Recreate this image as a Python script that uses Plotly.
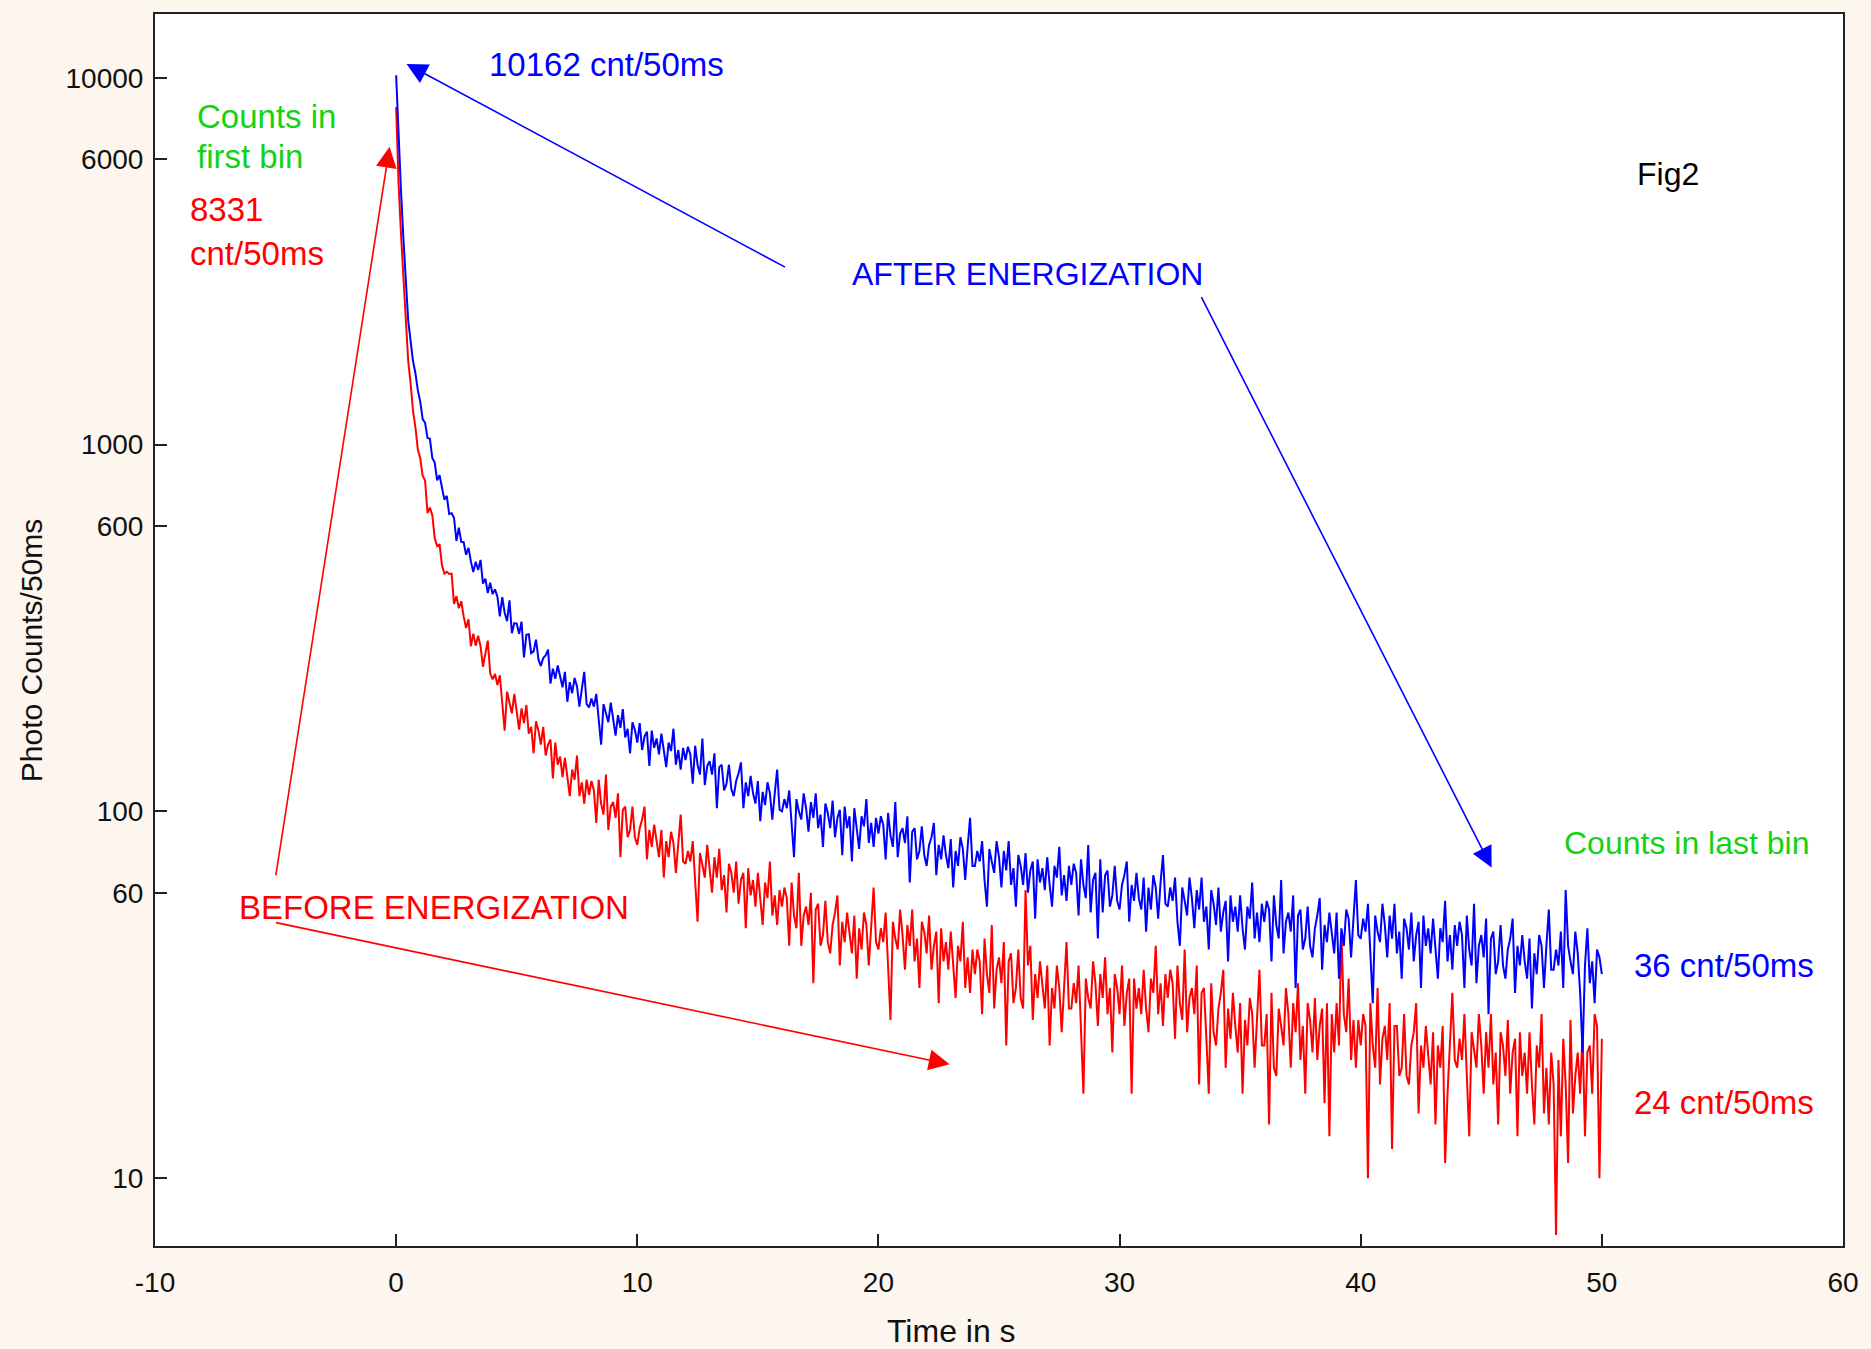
import plotly.graph_objects as go

# ---------------- data (0.1 s spacing, t = 0 ... 50 s) ----------------
T_START_S = 0.0
T_STEP_S = 0.1

after_energization = [
    10162, 6790, 4930, 3660, 2740, 2180, 1915, 1690, 1565, 1405,
    1310, 1174, 1147, 1043, 1037, 919, 893, 799, 825, 771,
    708, 725, 647, 650, 632, 546, 594, 543, 542, 501,
    523, 480, 449, 479, 455, 485, 418, 431, 394, 420,
    391, 403, 385, 340, 384, 348, 330, 376, 306, 326,
    325, 305, 329, 263, 303, 304, 270, 273, 294, 260,
    249, 262, 266, 276, 223, 245, 230, 250, 231, 218,
    240, 199, 225, 210, 231, 219, 193, 216, 240, 196,
    192, 203, 193, 209, 177, 152, 196, 184, 175, 198,
    181, 161, 183, 169, 190, 159, 168, 144, 175, 167,
    154, 174, 147, 160, 165, 133, 166, 149, 158, 143,
    163, 144, 132, 154, 146, 168, 134, 147, 130, 149,
    138, 150, 143, 119, 151, 134, 126, 158, 118, 133,
    137, 126, 144, 102, 132, 134, 114, 119, 134, 115,
    110, 121, 127, 136, 102, 120, 110, 125, 112, 105,
    121, 94, 113, 104, 120, 112, 95, 112, 130, 101,
    100, 108, 102, 114, 93, 75, 108, 100, 95, 112,
    102, 88, 106, 96, 112, 90, 98, 80, 105, 99,
    90, 107, 85, 96, 101, 76, 103, 90, 97, 73,
    102, 88, 79, 97, 91, 108, 82, 93, 80, 96,
    87, 97, 92, 74, 99, 86, 80, 106, 75, 87,
    90, 82, 97, 64, 88, 90, 74, 78, 91, 76,
    71, 81, 85, 93, 67, 81, 74, 86, 76, 70,
    84, 62, 78, 71, 85, 79, 65, 80, 96, 71,
    71, 78, 73, 83, 65, 55, 79, 73, 68, 83,
    75, 62, 78, 69, 83, 63, 70, 55, 76, 71,
    63, 77, 60, 69, 73, 51, 74, 64, 70, 61,
    75, 63, 55, 71, 66, 80, 59, 67, 57, 71,
    63, 72, 68, 52, 74, 63, 58, 81, 53, 65,
    68, 45, 74, 53, 67, 69, 55, 59, 71, 57,
    54, 63, 67, 73, 50, 63, 57, 68, 58, 54,
    66, 47, 62, 54, 67, 62, 51, 64, 76, 56,
    55, 62, 57, 66, 50, 43, 62, 57, 52, 66,
    58, 48, 61, 54, 66, 50, 55, 42, 61, 56,
    49, 62, 47, 53, 57, 39, 59, 50, 55, 47,
    59, 48, 42, 55, 51, 64, 45, 53, 44, 56,
    50, 57, 54, 39, 59, 49, 45, 65, 41, 50,
    53, 47, 59, 33, 52, 54, 42, 45, 55, 43,
    40, 48, 52, 58, 37, 49, 44, 53, 46, 41,
    53, 35, 48, 43, 54, 51, 40, 52, 65, 46,
    45, 51, 47, 56, 42, 30, 52, 47, 44, 56,
    49, 40, 52, 45, 56, 41, 47, 35, 51, 48,
    42, 53, 39, 46, 50, 33, 52, 43, 48, 41,
    51, 41, 35, 48, 44, 57, 39, 46, 37, 49,
    43, 50, 46, 33, 52, 42, 38, 56, 34, 43,
    46, 40, 51, 28, 45, 47, 36, 39, 49, 38,
    35, 42, 45, 51, 32, 43, 38, 46, 39, 35,
    45, 29, 41, 36, 46, 43, 33, 43, 54, 37,
    37, 42, 38, 47, 33, 61, 43, 39, 36, 47,
    41, 32, 22, 38, 48, 34, 39, 30, 42, 40,
    36,
]

before_energization = [
    8331, 5150, 3760, 2950, 2180, 1690, 1470, 1235, 1115, 970,
    916, 822, 798, 651, 673, 642, 556, 529, 535, 469,
    445, 450, 444, 445, 368, 386, 358, 374, 340, 316,
    334, 282, 305, 283, 301, 282, 248, 269, 292, 238,
    229, 237, 221, 235, 197, 166, 212, 197, 185, 209,
    189, 167, 191, 174, 195, 163, 170, 144, 176, 166,
    152, 170, 142, 152, 157, 123, 154, 134, 141, 124,
    140, 122, 110, 130, 122, 142, 110, 120, 105, 122,
    111, 121, 114, 93, 122, 105, 98, 126, 89, 103,
    106, 96, 112, 75, 101, 103, 85, 89, 103, 85,
    81, 90, 95, 103, 74, 89, 80, 92, 82, 75,
    89, 66, 83, 75, 88, 82, 68, 82, 98, 73,
    72, 78, 73, 83, 65, 50, 77, 71, 66, 81,
    71, 60, 75, 66, 79, 61, 67, 53, 72, 68,
    60, 73, 56, 65, 68, 48, 70, 59, 65, 55,
    68, 57, 49, 64, 58, 73, 52, 59, 49, 61,
    55, 62, 58, 43, 64, 52, 48, 68, 43, 52,
    55, 49, 60, 34, 54, 56, 43, 46, 57, 44,
    41, 49, 53, 59, 38, 50, 44, 53, 46, 41,
    52, 35, 48, 42, 53, 49, 38, 50, 62, 44,
    42, 48, 44, 53, 39, 27, 50, 45, 42, 54,
    46, 37, 49, 43, 54, 39, 45, 33, 50, 47,
    41, 52, 37, 43, 47, 30, 48, 39, 44, 37,
    47, 38, 31, 43, 39, 50, 33, 40, 32, 42,
    36, 42, 39, 28, 45, 36, 32, 49, 29, 37,
    40, 34, 44, 23, 39, 41, 30, 33, 42, 31,
    29, 61, 38, 43, 27, 36, 31, 39, 33, 29,
    38, 23, 33, 29, 38, 33, 25, 34, 44, 29,
    29, 34, 30, 38, 26, 17, 35, 31, 29, 39,
    34, 26, 36, 31, 40, 28, 33, 22, 36, 33,
    28, 38, 26, 32, 35, 17, 35, 29, 33, 28,
    37, 29, 25, 35, 32, 43, 28, 34, 26, 36,
    31, 37, 34, 24, 38, 30, 27, 42, 25, 31,
    33, 28, 38, 18, 32, 33, 24, 17, 34, 25,
    23, 29, 32, 37, 20, 29, 24, 32, 26, 22,
    30, 17, 27, 23, 31, 28, 20, 28, 37, 23,
    23, 28, 14, 32, 20, 19, 29, 26, 23, 33,
    28, 20, 30, 25, 34, 21, 26, 17, 30, 27,
    22, 31, 21, 26, 29, 16, 30, 13, 28, 22,
    30, 23, 47, 28, 25, 35, 21, 27, 20, 27,
    23, 28, 26, 10, 30, 23, 20, 33, 18, 24,
    26, 21, 30, 12, 26, 26, 19, 20, 28, 19,
    18, 23, 25, 30, 15, 23, 20, 26, 21, 18,
    25, 14, 23, 20, 26, 11, 17, 24, 32, 21,
    20, 24, 21, 28, 18, 13, 25, 22, 20, 28,
    23, 17, 25, 20, 28, 18, 22, 14, 25, 23,
    19, 27, 17, 22, 24, 13, 25, 19, 22, 17,
    25, 18, 14, 23, 20, 28, 15, 20, 14, 22,
    18, 7, 21, 13, 24, 18, 11, 27, 15, 19,
    22, 17, 25, 13, 22, 23, 17, 28, 26, 10,
    24,
]

x_tick_values = [-10, 0, 10, 20, 30, 40, 50, 60]
x_tick_labels = ["-10", "0", "10", "20", "30", "40", "50", "60"]
y_tick_values = [10, 60, 100, 600, 1000, 6000, 10000]
y_tick_labels = ["10", "60", "100", "600", "1000", "6000", "10000"]

# ---------------- layout constants ----------------
W, H = 1871, 1349
PL, PR, PT, PB = 155, 1846, 12, 1246   # plot area in pixels
FONT = "Liberation Sans, Arial, sans-serif"
BLUE = "#0000ff"
RED = "#ff0000"
GREEN = "#14d214"
BG = "#fcf6ef"


def px(xp):
    return (xp - PL) / (PR - PL)


def py(yp):
    return (PB - yp) / (PB - PT)


fig = go.Figure()
fig.add_trace(go.Scatter(x0=T_START_S, dx=T_STEP_S, y=before_energization, mode="lines",
                         line=dict(color=RED, width=2), showlegend=False, hoverinfo="skip"))
fig.add_trace(go.Scatter(x0=T_START_S, dx=T_STEP_S, y=after_energization, mode="lines",
                         line=dict(color=BLUE, width=2), showlegend=False, hoverinfo="skip"))

ann = []


def label(text, x, y, color, size=33, xanchor="left", angle=0):
    ann.append(dict(text=text, x=px(x), y=py(y), xref="paper", yref="paper",
                    xanchor=xanchor, yanchor="middle", showarrow=False, textangle=angle,
                    font=dict(family=FONT, size=size, color=color)))


def arrow(x_head, y_head, x_tail, y_tail, color):
    ann.append(dict(text="", x=px(x_head), y=py(y_head), xref="paper", yref="paper",
                    ax=x_tail - x_head, ay=y_tail - y_head, axref="pixel", ayref="pixel",
                    showarrow=True, arrowhead=2, arrowsize=2.6, arrowwidth=1.6,
                    arrowcolor=color, standoff=0, startstandoff=0))


label("10162 cnt/50ms", 488, 63, BLUE)
label("Counts in", 195, 115, GREEN)
label("first bin", 195, 155, GREEN)
label("8331", 188, 208, RED)
label("cnt/50ms", 188, 252, RED)
label("Fig2", 1638, 172, "#000000", size=32)
label("AFTER ENERGIZATION", 851, 272, BLUE, size=32)
label("BEFORE ENERGIZATION", 237, 907, RED)
label("Counts in last bin", 1564, 842, GREEN, size=32)
label("36 cnt/50ms", 1635, 965, BLUE)
label("24 cnt/50ms", 1635, 1102, RED)
label("Time in s", 953, 1331, "#111111", size=32, xanchor="center")
label("Photo Counts/50ms", 32, 650, "#111111", size=30, xanchor="center", angle=-90)

arrow(407, 62, 787, 266, BLUE)
arrow(390, 145, 276, 875, RED)
arrow(951, 1064, 276, 922, RED)
arrow(1494, 867, 1203, 295, BLUE)

axis_common = dict(showline=True, linecolor="#222222", linewidth=2, mirror=True,
                   ticks="inside", ticklen=12, tickwidth=2, tickcolor="#222222",
                   showgrid=False, zeroline=False,
                   tickfont=dict(family=FONT, size=28, color="#111111"))

fig.update_layout(
    width=W, height=H,
    margin=dict(l=PL, r=W - PR, t=PT, b=H - PB, pad=0),
    paper_bgcolor=BG, plot_bgcolor="#ffffff",
    xaxis=dict(range=[-10, 60], tickvals=x_tick_values, ticktext=x_tick_labels,
               ticklabelstandoff=10, **axis_common),
    yaxis=dict(type="log", range=[0.815, 4.174], tickvals=y_tick_values, ticktext=y_tick_labels,
               ticklabelstandoff=4, **axis_common),
    annotations=ann,
    showlegend=False,
)

fig.write_html("out.html")
